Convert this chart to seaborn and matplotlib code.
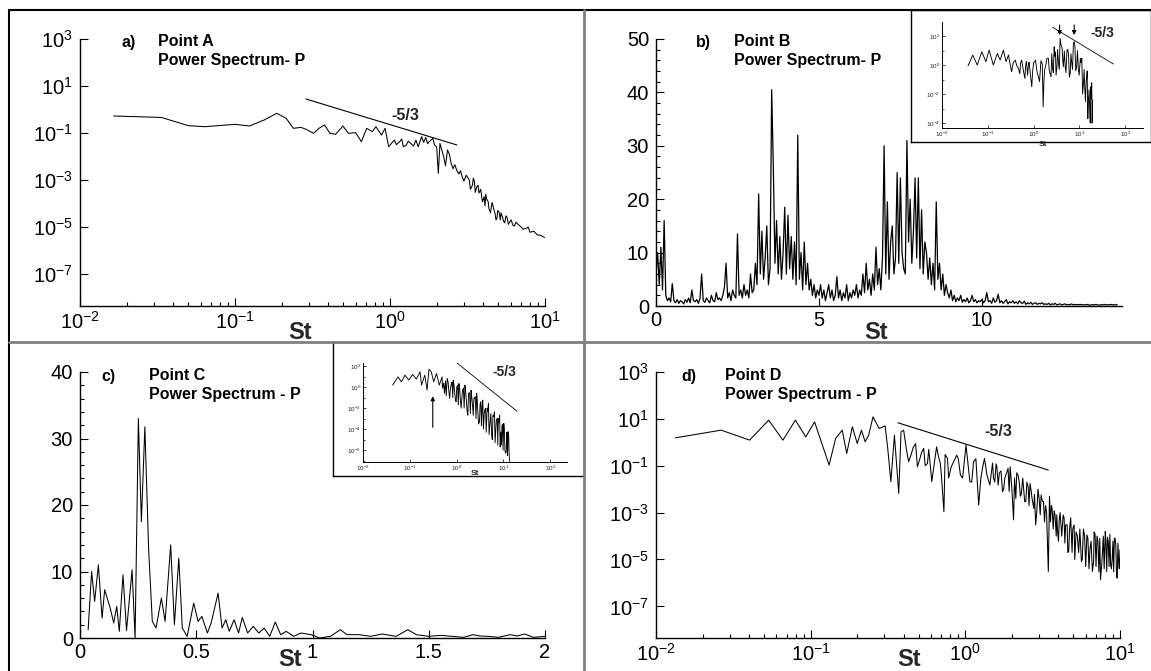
import numpy as np
import pandas as pd
import matplotlib
matplotlib.use("Agg")
import matplotlib.pyplot as plt
import seaborn as sns
from matplotlib.ticker import FixedLocator, LogFormatterSciNotation, NullLocator, NullFormatter, AutoMinorLocator
from matplotlib.lines import Line2D

# ---------------- data ----------------
# a) Point A, log-log spectrum
St_a = [0.0165, 0.0335, 0.050, 0.064, 0.10, 0.124, 0.154, 0.186, 0.214, 0.238, 0.266, 0.288,
        0.321, 0.348, 0.378, 0.41, 0.445, 0.497, 0.539, 0.601, 0.653, 0.708, 0.769, 0.811,
        0.881, 0.93, 0.98, 1.065, 1.1, 1.156, 1.19, 1.22, 1.27, 1.31, 1.36, 1.42, 1.47, 1.52,
        1.6, 1.65, 1.7, 1.75, 1.79, 1.84, 1.89, 1.94, 2.0, 2.05, 2.1, 2.22, 2.28, 2.35, 2.42,
        2.48, 2.55, 2.62, 2.69, 2.78, 2.85, 2.92, 3.0, 3.1, 3.25, 3.4, 3.5, 3.63, 3.75, 3.85,
        3.95, 4.05, 4.2, 4.35, 4.51, 4.6, 4.76, 4.9, 5.05, 5.31, 5.5, 5.7, 5.93, 6.2, 6.5,
        6.98, 7.4, 7.8, 8.22, 8.7, 9.2, 9.94]
P_a = [0.53, 0.46, 0.205, 0.186, 0.234, 0.199, 0.357, 0.69, 0.42, 0.158, 0.174, 0.143,
       0.097, 0.158, 0.219, 0.097, 0.088, 0.199, 0.097, 0.103, 0.043, 0.158, 0.114, 0.186,
       0.082, 0.158, 0.026, 0.050, 0.032, 0.043, 0.055, 0.026, 0.030, 0.045, 0.036, 0.028,
       0.050, 0.026, 0.070, 0.040, 0.065, 0.035, 0.043, 0.050, 0.059, 0.030, 0.026, 0.0019,
       0.036, 0.0098, 0.004, 0.019, 0.012, 0.0051, 0.003, 0.0045, 0.0027, 0.0018, 0.0025,
       0.0014, 0.0009, 0.0016, 0.0010, 0.0006, 0.0009, 5.2e-4, 2.8e-4, 4e-4, 1.2e-4, 1.95e-4,
       1.6e-4, 6e-5, 7.3e-5, 9e-5, 3.8e-5, 2.4e-5, 4.5e-5, 2.75e-5, 1.5e-5, 2.5e-5, 1.69e-5,
       1.2e-5, 1.6e-5, 1.03e-5, 8.5e-6, 1.0e-5, 6.3e-6, 5.5e-6, 4.6e-6, 3.6e-6]
# extra wiggles of the dense tail of a)
St_a_tail = [3.3, 3.45, 3.55, 3.7, 3.9, 4.1, 4.15, 4.3, 4.45, 4.55, 4.7, 4.83, 4.95, 5.15,
             5.2, 5.4, 5.6, 5.8, 6.05, 6.35, 6.7, 7.2, 7.6, 8.0, 8.5, 9.0, 9.5]
P_a_tail = [4e-4, 1.2e-3, 3e-4, 6e-4, 2e-4, 8e-5, 2.5e-4, 1.2e-4, 4e-5, 1.1e-4, 5e-5, 2e-5,
            5e-5, 2e-5, 4e-5, 1.8e-5, 3e-5, 1.3e-5, 2e-5, 1.1e-5, 1.3e-5, 8e-6, 9e-6, 6e-6,
            6.5e-6, 4.5e-6, 4.2e-6]
slope_a_St = [0.287, 2.7]
slope_a_P = [2.8, 0.031]

# b) Point B, linear spectrum, bin width 0.05 in St
dSt_b = 0.05
P_b = [6, 10, 4, 11, 3, 16, 2, 1, 1.5, 0.8, 4.2, 1, 0.6, 1.2, 0.5, 1, 0.8, 0.4, 1.2, 0.7,
       1.5, 0.6, 3, 1, 0.8, 1.2, 0.5, 1.4, 6, 1, 0.7, 1.5, 1, 0.6, 2, 1, 0.8, 2.5, 1.2, 1.5,
       1, 2, 3.5, 8, 1.5, 2.5, 1, 3, 2, 1.5, 13.5, 2, 3, 1.5, 4, 2, 3, 1.5, 6, 2.5,
       3, 8, 4, 21, 6, 14, 5, 9, 15, 4, 7, 40.5, 26, 8, 16, 6, 13, 5, 10, 18.5,
       6, 17, 7, 13, 5, 12, 4, 32, 5, 10, 3, 12, 4, 8, 3, 5, 2, 4, 1.5, 3,
       2, 4, 1.5, 3, 1, 2.5, 4, 1.5, 3, 1, 2, 5.5, 1.5, 3, 1, 2.5, 1.5, 4, 1, 2.5,
       1.5, 3, 2, 4, 1.5, 3, 2, 6, 2.5, 8, 3, 5, 2, 6, 3, 11, 4, 7, 3, 9,
       30, 6, 19.5, 5, 12, 15, 6, 9, 25, 8, 24, 10, 7, 6, 31, 12, 20, 8, 14, 24,
       9, 24, 7, 18, 6, 12, 10, 5, 9, 4, 8, 3, 19.5, 5, 8, 3, 6, 2, 4, 2.5,
       1.5, 3, 1, 2, 0.8, 1.5, 1, 2, 0.7, 1.2, 0.8, 1.5, 0.6, 1, 2, 0.8, 1.2, 0.6, 1, 0.8,
       1.2, 0.6, 1, 2.5, 0.8, 1, 0.5, 1.5, 0.7, 1, 2.2, 0.6, 1, 0.5, 0.8, 1.2, 0.4, 0.8, 0.6, 1,
       0.5, 0.8, 0.4, 1, 0.6, 0.5, 0.9, 0.3, 0.6, 0.4, 0.7, 0.3, 0.5, 0.6, 0.3, 0.5, 0.4, 0.6, 0.3, 0.4,
       0.3, 0.5, 0.2, 0.4, 0.3, 0.5, 0.2, 0.3, 0.4, 0.2, 0.3, 0.4, 0.2, 0.3, 0.2, 0.4, 0.2, 0.3, 0.2, 0.3,
       0.2, 0.3, 0.2, 0.25, 0.2, 0.3, 0.15, 0.2, 0.25, 0.2, 0.3, 0.2, 0.15, 0.25, 0.2, 0.3, 0.2, 0.25, 0.2, 0.3,
       0.2, 0.25, 0.2, 0.3]

# b) inset, log-log
St_bi = [0.037, 0.047, 0.059, 0.074, 0.091, 0.107, 0.132, 0.162, 0.186, 0.219, 0.251, 0.282,
         0.331, 0.398, 0.43, 0.468, 0.55, 0.6, 0.646, 0.7, 0.776, 0.85, 0.912, 1.0, 1.07, 1.2,
         1.35, 1.45, 1.62, 1.75, 1.95, 2.1, 2.4, 2.6, 2.82, 3.0, 3.24, 3.5, 3.8, 4.2, 4.47, 4.9,
         5.37, 5.8, 6.31, 6.8, 7.41, 8.0, 8.71, 9.5, 10.5, 11.3, 12.3, 13.2, 14.1, 14.8, 15.8,
         16.8, 17.8, 18.6, 19.5,
         0.36, 0.5, 0.52, 0.67, 0.74, 0.8, 0.95, 1.1, 1.28, 1.55, 1.68, 1.85, 2.2, 2.5, 2.7,
         2.9, 3.1, 3.35, 3.65, 3.95, 4.35, 4.7, 5.1, 5.6, 6.05, 6.55, 7.1, 7.7, 8.35, 9.1, 9.9,
         10.9, 11.8, 12.7, 13.6, 14.4, 15.3, 16.3, 17.3, 18.2, 19.0]
P_bi = [0.89, 4.9, 1.0, 8.3, 1.7, 10.7, 1.0, 6.3, 2.2, 10.7, 1.7, 4.9,
        0.35, 2.2, 0.9, 0.59, 2.2, 0.4, 0.12, 1.8, 1.3, 0.25, 0.032, 1.5, 1.7, 0.3,
        0.071, 2.0, 0.0013, 0.5, 2.9, 3.0, 0.155, 0.6, 18, 8, 0.76, 1.2, 69, 15, 0.76, 0.8,
        10.7, 5, 0.27, 1.5, 32, 20, 0.76, 0.5, 2.9, 3, 0.055, 0.02, 0.093, 0.4, 0.0039,
        0.001, 0.032, 0.06, 0.0039,
        1.5, 0.25, 1.4, 0.9, 0.2, 1.6, 0.3, 2.2, 0.15, 1.2, 0.08, 1.0, 0.4, 6, 0.3,
        4, 0.2, 12, 0.5, 25, 2, 9, 0.3, 12, 0.15, 6, 0.5, 40, 0.4, 10, 0.2,
        1.5, 0.01, 0.5, 0.003, 0.1, 2e-4, 0.02, 1e-4, 0.005, 1e-4]
slope_bi_St = [2.63, 55.6]
slope_bi_P = [400, 1.17]
arrows_bi_St = [3.7, 7.7]
arrow_bi_top = 900
arrow_bi_tip = 75

# c) Point C, linear spectrum
St_c = [0.035, 0.05, 0.063, 0.079, 0.095, 0.106, 0.13, 0.145, 0.158, 0.169, 0.185, 0.2,
        0.224, 0.237, 0.251, 0.264, 0.279, 0.295, 0.311, 0.327, 0.35, 0.366, 0.39, 0.406,
        0.425, 0.44, 0.461, 0.489, 0.508, 0.524, 0.548, 0.564, 0.594, 0.611, 0.627, 0.642,
        0.663, 0.682, 0.698, 0.721, 0.745, 0.769, 0.792, 0.816, 0.84, 0.863, 0.887, 0.919,
        0.95, 0.994, 1.03, 1.077, 1.12, 1.148, 1.2, 1.25, 1.3, 1.36, 1.41, 1.447, 1.5, 1.55,
        1.6, 1.65, 1.69, 1.72, 1.755, 1.8, 1.85, 1.88, 1.913, 1.95, 2.0]
P_c = [1.25, 10, 5.5, 11, 3, 7.25, 4.5, 2.25, 4.75, 1, 9.5, 1.1,
       10.25, 0, 33, 17.5, 31.75, 13.5, 2.5, 1.5, 6, 2.5, 14, 2,
       12, 1.5, 0.25, 5.25, 2.5, 3.25, 0.75, 2.25, 6.75, 1.5, 2.75, 1,
       2.75, 0.75, 3.1, 0.75, 1.75, 0.75, 1.5, 0.25, 2.4, 0.5, 1, 0.25,
       0.75, 0.5, 0, 0.25, 1.25, 0.5, 0.5, 0.25, 0.6, 0.25, 1.25, 0.5, 0.25, 0.4,
       0.25, 0.1, 0.5, 0.3, 0.25, 0.1, 0.5, 0.3, 0.6, 0.1, 0.25]
c_xticks = [0, 0.5, 1, 1.5, 2]
c_xticklabels = ["0", "0.5", "1", "1.5", "2"]

# c) inset, log-log
St_ci = [0.043, 0.056, 0.066, 0.079, 0.095, 0.115, 0.138, 0.166, 0.178, 0.209, 0.234, 0.257,
         0.288, 0.324, 0.372, 0.427, 0.49, 0.5, 0.55, 0.58, 0.63, 0.68, 0.74, 0.8, 0.85, 0.92,
         0.98, 1.05, 1.12, 1.2, 1.32, 1.4, 1.51, 1.6, 1.74, 1.9, 2.04, 2.2, 2.34, 2.5, 2.69,
         2.85, 3.09, 3.3, 3.63, 3.9, 4.17, 4.5, 4.79, 5.2, 5.62, 6.0, 6.46, 6.9, 7.41, 7.8,
         8.32, 8.8, 9.12, 9.6, 10.2, 10.8, 11.5, 12.0, 12.6, 13.2, 13.8,
         0.53, 0.6, 0.66, 0.71, 0.77, 0.83, 0.88, 0.95, 1.01, 1.09, 1.16, 1.25, 1.36, 1.45,
         1.56, 1.68, 1.8, 1.97, 2.1, 2.27, 2.42, 2.6, 2.77, 2.95, 3.18, 3.4, 3.52, 3.75, 4.05,
         4.3, 4.65, 4.95, 5.4, 5.8, 6.2, 6.65, 7.1, 7.6, 8.05, 8.55, 9.35, 9.85, 10.5, 11.1,
         11.8, 12.3, 13.0, 13.5]
P_ci = [1.55, 9.5, 3.2, 13.8, 4.7, 16.2, 5.8, 28.8, 1.55, 13.8, 0.51, 51,
        28.8, 3.2, 20, 1.55, 9.5, 0.8, 0.25, 4, 6.8, 0.5, 0.74, 3, 4.7, 0.2,
        0.04, 1.5, 2.2, 0.08, 0.25, 0.8, 1.55, 0.1, 0.0021, 0.3, 0.51, 0.015, 0.083, 0.12, 0.25,
        0.004, 5e-4, 0.04, 0.058, 0.003, 0.0093, 0.01, 0.028, 5e-4, 2.7e-5, 0.002, 0.0045, 1e-4,
        0.00105, 0.001, 0.0021, 5e-5, 3e-6, 3e-4, 3.5e-4, 1e-6, 6.9e-7, 2e-5, 5.6e-5, 1e-6, 8e-8,
        2.5, 0.15, 3, 0.08, 2, 0.1, 1.5, 0.05, 1.0, 0.02, 0.9, 0.01, 0.6, 0.01,
        0.4, 0.005, 0.25, 0.003, 0.15, 0.002, 0.08, 0.001, 0.05, 3e-4, 0.025, 2e-4, 0.015, 1e-4,
        0.008, 5e-5, 0.005, 3e-5, 0.003, 1e-5, 0.0015, 5e-6, 8e-4, 3e-6, 4e-4, 2e-6, 2e-4, 1e-6,
        1e-4, 5e-7, 5e-5, 3e-7, 2e-5, 1e-7]
slope_ci_St = [0.91, 19.5]
slope_ci_P = [300, 0.0051]
arrow_ci_St = 0.31
arrow_ci_bottom = 8e-5
arrow_ci_tip = 0.25

# d) Point D, log-log spectrum
St_d = [0.0133, 0.0264, 0.0403, 0.0535, 0.0662, 0.0797, 0.0929, 0.106, 0.1316, 0.145, 0.160,
        0.171, 0.186, 0.2, 0.213, 0.225, 0.237, 0.253, 0.277, 0.303, 0.315, 0.33, 0.348, 0.371,
        0.384, 0.399, 0.417, 0.43, 0.445, 0.46, 0.477, 0.49, 0.509, 0.52, 0.538, 0.55, 0.569,
        0.58, 0.607, 0.62, 0.652, 0.67, 0.689, 0.70, 0.727, 0.74, 0.767, 0.78, 0.811, 0.84,
        0.88, 0.90, 0.93, 0.96, 1.01, 1.04, 1.07, 1.10, 1.13, 1.17, 1.22, 1.26, 1.30, 1.33,
        1.38, 1.44, 1.50, 1.55, 1.6, 1.66, 1.74, 1.80, 1.89, 1.95, 2.0, 2.05, 2.15, 2.23, 2.3,
        2.42, 2.5, 2.62, 2.7, 2.85, 2.95, 3.09, 3.2, 3.35, 3.44, 3.5, 3.64, 3.8, 3.95, 4.1,
        4.29, 4.45, 4.66, 4.8, 5.05, 5.3, 5.63, 5.8, 6.11, 6.4, 6.63, 6.9, 7.2, 7.48, 7.7,
        8.03, 8.4, 8.7, 8.9, 9.2, 9.4, 9.6, 9.8, 10.0]
P_d = [1.55, 3.3, 1.24, 8.8, 1.24, 8.8, 1.7, 7.4, 0.107, 1.46, 3.3,
       0.335, 4.6, 0.89, 3.3, 1.05, 2.0, 12.2, 3.9, 5.0, 0.55, 0.021, 2.0, 0.0066,
       2.8, 3.3, 0.46, 0.15, 0.284, 0.6, 0.89, 0.09, 0.205, 0.35, 0.55, 0.1, 0.126,
       0.5, 0.021, 0.06, 0.64, 0.25, 0.126, 0.04, 0.0011, 0.3, 0.205, 0.03, 0.091, 0.15,
       0.284, 0.2, 0.040, 0.03, 0.76, 0.12, 0.021, 0.02, 0.148, 0.2, 0.0021, 0.03, 0.1, 0.205,
       0.04, 0.015, 0.13, 0.02, 0.091, 0.05, 0.0078, 0.03, 0.077, 0.09, 0.01, 4.9e-4, 0.05, 0.021, 0.006,
       0.0029, 0.02, 0.0177, 0.004, 3e-4, 0.01, 0.0056, 0.003, 0.0011, 3.1e-6, 0.005, 0.0015, 0.0008, 1.55e-4, 0.001,
       7.9e-4, 3e-4, 2.2e-5, 6e-4, 3e-4, 1e-4, 8.2e-6, 2e-4, 1.12e-4, 3e-5, 3.1e-6, 1.2e-4, 5.8e-5, 1.36e-6, 2e-5,
       1.55e-4, 6e-5, 5.9e-6, 1e-5, 8.1e-5, 4e-5, 1.6e-6, 8e-6, 2.6e-5]
# extra wiggles of the dense high-St part of d)
St_d_tail = [1.52, 1.58, 1.63, 1.7, 1.77, 1.85, 1.92, 2.08, 2.12, 2.19, 2.27, 2.35, 2.46, 2.55,
             2.58, 2.66, 2.77, 2.8, 2.9, 3.0, 3.05, 3.15, 3.25, 3.3, 3.55, 3.6, 3.7, 3.75, 3.87,
             3.9, 4.0, 4.05, 4.2, 4.35, 4.4, 4.55, 4.6, 4.72, 4.9, 4.95, 5.1, 5.2, 5.4, 5.5, 5.7,
             5.9, 6.0, 6.2, 6.3, 6.5, 6.75, 6.8, 7.0, 7.1, 7.3, 7.4, 7.6, 7.8, 7.9, 8.1, 8.2, 8.3,
             8.5, 8.6, 8.8, 9.0, 9.1, 9.3, 9.5, 9.7, 9.9]
P_d_tail = [0.03, 0.12, 0.015, 0.06, 0.01, 0.05, 0.008, 0.03, 0.004, 0.04, 0.005, 0.03, 0.003,
            0.012, 0.002, 0.009, 0.0015, 0.006, 0.0012, 0.004, 8e-4, 0.003, 4e-4, 0.002, 4e-4,
            0.002, 2e-4, 0.0012, 1e-4, 8e-4, 6e-5, 5e-4, 1e-4, 6e-4, 5e-5, 3e-4, 2e-5, 2e-4,
            2e-5, 2e-4, 1e-5, 1.5e-4, 2e-5, 2e-4, 1e-5, 1e-4, 5e-6, 8e-5, 4e-6, 6e-5, 8e-6,
            1.5e-4, 5e-6, 1e-4, 3e-6, 8e-5, 5e-6, 1e-4, 4e-6, 7e-5, 3e-6, 9e-5, 5e-6, 1.2e-4,
            4e-6, 6e-5, 3e-6, 8e-5, 2e-6, 5e-5, 4e-6]
slope_d_St = [0.367, 3.44]
slope_d_P = [6.8, 0.0655]

log_yticks = [1e3, 1e1, 1e-1, 1e-3, 1e-5, 1e-7]

# ---------------- figure ----------------
sns.set_style("ticks")
plt.rcParams["font.family"] = ["Liberation Sans", "DejaVu Sans"]
plt.rcParams["mathtext.fontset"] = "custom"
plt.rcParams["mathtext.rm"] = "Liberation Sans"
plt.rcParams["mathtext.it"] = "Liberation Sans:italic"
plt.rcParams["mathtext.bf"] = "Liberation Sans:bold"
plt.rcParams["xtick.direction"] = "in"
plt.rcParams["ytick.direction"] = "in"

W, H = 1151, 671
fig = plt.figure(figsize=(W / 100, H / 100), dpi=100, facecolor="white")


def box(x0, y0, x1, y1):
    # pixel box -> figure fraction rect
    return [x0 / W, 1 - y1 / H, (x1 - x0) / W, (y1 - y0) / H]


def ftext(x, y, s, **kw):
    fig.text(x / W, 1 - y / H, s, **kw)


def style_main(ax):
    sns.despine(ax=ax)
    for s in ["left", "bottom"]:
        ax.spines[s].set_color("black")
        ax.spines[s].set_linewidth(1.0)
    ax.tick_params(which="major", length=6, width=0.8, labelsize=14.5, color="black", labelcolor="black")
    ax.tick_params(axis="y", which="major", pad=5)
    ax.tick_params(which="minor", length=3, width=0.8, color="black")
    ax.set_xlabel("")
    ax.set_ylabel("")
    ax.set_facecolor("white")


def style_log(ax, ylo):
    ax.set_xscale("log")
    ax.set_yscale("log")
    ax.set_xlim(1e-2, 1e1)
    ax.set_ylim(ylo, 1e3)
    ax.yaxis.set_major_locator(FixedLocator(log_yticks))
    ax.yaxis.set_major_formatter(LogFormatterSciNotation())
    ax.yaxis.set_minor_locator(NullLocator())


def style_inset(ax, yticks, yminor, ylim, xlim):
    ax.set_xscale("log")
    ax.set_yscale("log")
    ax.set_xlim(*xlim)
    ax.set_ylim(*ylim)
    sns.despine(ax=ax)
    for s in ["left", "bottom"]:
        ax.spines[s].set_linewidth(0.7)
        ax.spines[s].set_color("black")
    ax.xaxis.set_major_locator(FixedLocator([1e-2, 1e-1, 1e0, 1e1, 1e2]))
    ax.xaxis.set_minor_locator(NullLocator())
    ax.xaxis.set_major_formatter(LogFormatterSciNotation())
    ax.yaxis.set_major_locator(FixedLocator(yticks))
    ax.yaxis.set_minor_locator(FixedLocator(yminor))
    ax.yaxis.set_major_formatter(LogFormatterSciNotation())
    ax.yaxis.set_minor_formatter(NullFormatter())
    ax.tick_params(which="major", length=2.5, width=0.6, labelsize=4.5, pad=1.5)
    ax.tick_params(which="minor", length=1.5, width=0.6)
    ax.set_xlabel("")
    ax.set_ylabel("")
    ax.patch.set_alpha(0)


line_kw = dict(color="black", linewidth=0.75, estimator=None)

# a)
ax_a = fig.add_axes(box(80, 39, 545, 306))
df_a = pd.DataFrame({"St": St_a + St_a_tail, "P": P_a + P_a_tail})
sns.lineplot(data=df_a, x="St", y="P", ax=ax_a, **line_kw)
style_log(ax_a, 10 ** -8.36)
style_main(ax_a)
ax_a.plot(slope_a_St, slope_a_P, color="black", lw=0.8)

# b)
St_b = np.arange(len(P_b)) * dSt_b
ax_b = fig.add_axes(box(656, 39, 1122, 306))
sns.lineplot(data=pd.DataFrame({"St": St_b, "P": P_b}), x="St", y="P", ax=ax_b,
             color="black", linewidth=0.9, estimator=None)
ax_b.set_xlim(0, 14.3)
ax_b.set_ylim(0, 50)
ax_b.set_xticks([0, 5, 10])
ax_b.set_yticks([0, 10, 20, 30, 40, 50])
ax_b.yaxis.set_minor_locator(AutoMinorLocator(5))
style_main(ax_b)

# c)
ax_c = fig.add_axes(box(80, 372, 545, 638))
sns.lineplot(data=pd.DataFrame({"St": St_c, "P": P_c}), x="St", y="P", ax=ax_c, **line_kw)
ax_c.set_xlim(0, 2)
ax_c.set_ylim(0, 40)
ax_c.set_xticks(c_xticks, labels=c_xticklabels)
ax_c.set_yticks([0, 10, 20, 30, 40])
ax_c.yaxis.set_minor_locator(AutoMinorLocator(5))
style_main(ax_c)

# d)
ax_d = fig.add_axes(box(656, 372, 1120, 638))
df_d = pd.DataFrame({"St": St_d + St_d_tail, "P": P_d + P_d_tail})
sns.lineplot(data=df_d, x="St", y="P", ax=ax_d, **line_kw)
style_log(ax_d, 10 ** -8.35)
style_main(ax_d)
ax_d.plot(slope_d_St, slope_d_P, color="black", lw=0.8)

# inset frames (white boxes with border)
for (x0, y0, x1, y1) in [(911, 10, 1151, 142), (333, 342, 584, 476)]:
    fr = fig.add_axes(box(x0, y0, x1, y1))
    fr.set_xticks([])
    fr.set_yticks([])
    fr.set_facecolor("white")
    for s in fr.spines.values():
        s.set_color("black")
        s.set_linewidth(1.0)
    fr.set_zorder(3)

# b) inset
ax_bi = fig.add_axes(box(942, 22, 1143, 128))
ax_bi.set_zorder(4)
sns.lineplot(data=pd.DataFrame({"St": St_bi, "P": P_bi}), x="St", y="P", ax=ax_bi,
             color="black", linewidth=0.65, estimator=None)
style_inset(ax_bi, [1e2, 1e0, 1e-2, 1e-4], [1e1, 1e-1, 1e-3], (10 ** -4.34, 10 ** 2.97), (1e-2, 10 ** 2.39))
ax_bi.plot(slope_bi_St, slope_bi_P, color="black", lw=0.6)
for s in arrows_bi_St:
    ax_bi.annotate("", xy=(s, arrow_bi_tip), xytext=(s, arrow_bi_top),
                   arrowprops=dict(arrowstyle="-|>", color="black", lw=0.8, mutation_scale=6))
ax_bi.text(0.5, -0.16, "St", transform=ax_bi.transAxes, ha="center", va="center",
           fontsize=6, fontweight="bold")

# c) inset
ax_ci = fig.add_axes(box(363, 363, 567, 462))
ax_ci.set_zorder(4)
sns.lineplot(data=pd.DataFrame({"St": St_ci, "P": P_ci}), x="St", y="P", ax=ax_ci,
             color="black", linewidth=0.65, estimator=None)
style_inset(ax_ci, [1e2, 1e0, 1e-2, 1e-4, 1e-6], [1e1, 1e-1, 1e-3, 1e-5, 1e-7],
            (10 ** -7.14, 10 ** 2.3), (1e-2, 10 ** 2.36))
ax_ci.plot(slope_ci_St, slope_ci_P, color="black", lw=0.6)
ax_ci.annotate("", xy=(arrow_ci_St, arrow_ci_tip), xytext=(arrow_ci_St, arrow_ci_bottom),
               arrowprops=dict(arrowstyle="-|>", color="black", lw=0.8, mutation_scale=6))
ax_ci.text(0.55, -0.12, "St", transform=ax_ci.transAxes, ha="center", va="center",
           fontsize=6, fontweight="bold")

# ---------------- panel texts ----------------
tkw = dict(fontsize=11.5, fontweight="bold", ha="left", va="center", color="black")
ftext(121, 42, "a)", **tkw)
ftext(158, 42, "Point A", **tkw)
ftext(158, 61, "Power Spectrum- P", **tkw)
ftext(696, 42, "b)", **tkw)
ftext(734, 42, "Point B", **tkw)
ftext(734, 61, "Power Spectrum- P", **tkw)
ftext(101, 376, "c)", **tkw)
ftext(149, 376, "Point C", **tkw)
ftext(149, 394, "Power Spectrum - P", **tkw)
ftext(681, 376, "d)", **tkw)
ftext(725, 376, "Point D", **tkw)
ftext(725, 394, "Power Spectrum - P", **tkw)

ftext(405, 115, "-5/3", fontsize=11.5, fontweight="bold", ha="center", va="center")
ftext(998, 432, "-5/3", fontsize=11.5, fontweight="bold", ha="center", va="center")
ftext(1102, 33, "-5/3", fontsize=10, fontweight="bold", ha="center", va="center", zorder=10)
ftext(504, 372, "-5/3", fontsize=10, fontweight="bold", ha="center", va="center", zorder=10)

skw = dict(fontsize=17, fontweight="bold", ha="center", va="center")
ftext(300, 332, "St", **skw)
ftext(876, 332, "St", **skw)
ftext(290, 659, "St", **skw)
ftext(909, 659, "St", **skw)

# ---------------- panel dividers / outer frame ----------------
def fline(x0, y0, x1, y1, color, lw):
    fig.add_artist(Line2D([x0 / W, x1 / W], [1 - y0 / H, 1 - y1 / H], transform=fig.transFigure,
                          color=color, linewidth=lw, zorder=20))


fline(9, 10, W, 10, "black", 1.5)
fline(9, 10, 9, H, "black", 1.5)
fline(584, 10, 584, H, "#808080", 2)
fline(9, 342, W, 342, "#808080", 2)

fig.savefig("out.png", dpi=100, facecolor="white")
